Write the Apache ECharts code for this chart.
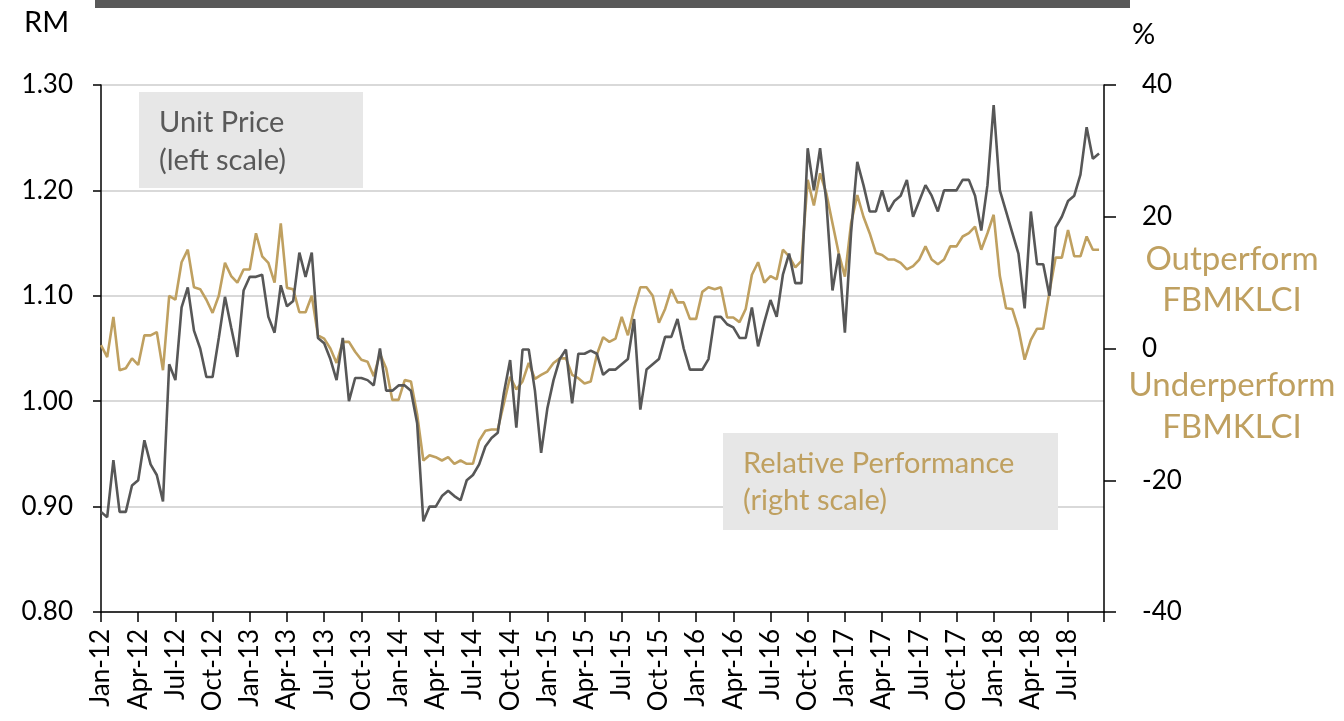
<!DOCTYPE html>
<html>
<head>
<meta charset="utf-8">
<title>Unit Price vs Relative Performance</title>
<script src="https://cdn.jsdelivr.net/npm/echarts@6/dist/echarts.min.js"></script>
<style>
  html, body { margin: 0; padding: 0; background: #fff; }
  #main { width: 1344px; height: 721px; }
</style>
</head>
<body>
<div id="main"></div>
<script>
// x is measured in months from Jan-12, one value every half month
var STEP = 0.5;

var tickLabels = ['Jan-12', 'Apr-12', 'Jul-12', 'Oct-12', 'Jan-13', 'Apr-13', 'Jul-13', 'Oct-13',
  'Jan-14', 'Apr-14', 'Jul-14', 'Oct-14', 'Jan-15', 'Apr-15', 'Jul-15', 'Oct-15',
  'Jan-16', 'Apr-16', 'Jul-16', 'Oct-16', 'Jan-17', 'Apr-17', 'Jul-17', 'Oct-17',
  'Jan-18', 'Apr-18', 'Jul-18'];

// unit price, RM (left scale)
var priceValues = [
  0.895, 0.89, 0.944, 0.895, 0.895, 0.92, 0.925, 0.963, 0.94, 0.93, 0.905, 1.035,
  1.02, 1.089, 1.108, 1.067, 1.05, 1.023, 1.023, 1.06, 1.099, 1.07, 1.042, 1.105,
  1.118, 1.118, 1.12, 1.08, 1.065, 1.11, 1.09, 1.095, 1.141, 1.118, 1.141, 1.06,
  1.055, 1.04, 1.02, 1.06, 1.00, 1.022, 1.022, 1.02, 1.015, 1.05, 1.01, 1.01,
  1.015, 1.015, 1.01, 0.979, 0.886, 0.9, 0.9, 0.91, 0.915, 0.91, 0.906, 0.925,
  0.93, 0.94, 0.957, 0.965, 0.97, 1.008, 1.039, 0.975, 1.049, 1.049, 1.01, 0.951,
  0.993, 1.02, 1.04, 1.049, 0.998, 1.045, 1.045, 1.048, 1.045, 1.025, 1.03, 1.03,
  1.035, 1.04, 1.078, 0.992, 1.03, 1.035, 1.04, 1.061, 1.061, 1.078, 1.05, 1.03,
  1.03, 1.03, 1.04, 1.08, 1.08, 1.073, 1.07, 1.06, 1.06, 1.089, 1.052, 1.075,
  1.096, 1.08, 1.12, 1.14, 1.112, 1.112, 1.24, 1.20, 1.24, 1.19, 1.105, 1.14,
  1.065, 1.16, 1.227, 1.205, 1.18, 1.18, 1.20, 1.18, 1.19, 1.195, 1.21, 1.175,
  1.19, 1.205, 1.195, 1.18, 1.20, 1.20, 1.20, 1.21, 1.21, 1.195, 1.162, 1.205,
  1.281, 1.20, 1.18, 1.16, 1.14, 1.088, 1.18, 1.13, 1.13, 1.10, 1.165, 1.175,
  1.19, 1.195, 1.215, 1.26, 1.23, 1.235
];

// relative performance vs FBMKLCI, % (right scale)
var relativeValues = [
  0.5, -1.3, 4.8, -3.3, -3.0, -1.5, -2.5, 2.0, 2.0, 2.5, -3.3, 8,
  7.4, 13.1, 15, 9.3, 9.0, 7.4, 5.4, 8, 13, 11, 10, 12,
  12, 17.5, 14, 13, 10, 19, 9.2, 9.0, 5.5, 5.5, 8.0, 2,
  1.5, 0, -2.2, 1.0, 1.0, -0.5, -1.7, -2, -4.2, -0.8, -3, -7.8,
  -7.8, -4.8, -5, -10, -17, -16.2, -16.5, -17, -16.5, -17.5, -17, -17.5,
  -17.5, -14, -12.5, -12.3, -12.3, -8.3, -4.3, -6.2, -5.0, -2.2, -4.6, -4,
  -3.5, -2.2, -1.5, -1.5, -4, -4.5, -5.3, -5.0, -0.9, 1.7, 1.0, 1.5,
  4.8, 2, 6, 9.3, 9.3, 8, 3.9, 6, 9, 7, 7, 4.5,
  4.5, 8.6, 9.3, 9.0, 9.3, 4.7, 4.7, 4, 6, 11.2, 13.1, 10,
  11, 10.5, 15, 14, 12.3, 13.3, 25.6, 21.7, 26.6, 23.6, 19, 14.5,
  10.9, 19, 23.3, 20, 17.5, 14.5, 14.2, 13.5, 13.5, 13, 12, 12.5,
  13.5, 15.5, 13.5, 12.8, 13.5, 15.5, 15.5, 17, 17.5, 18.5, 15, 17.5,
  20.3, 11, 6.1, 6, 3, -1.7, 1.3, 3, 3, 8.6, 13.8, 13.8,
  18, 14, 14, 17, 15, 15
];

var DARK = '#575757';
var GOLD = '#BFA060';
var FONT = 'Lato';

function toPoints(values) {
  return values.map(function (v, i) { return [i * STEP, v]; });
}

var myChart = echarts.init(document.getElementById('main'));
myChart.setOption({
  animation: false,
  textStyle: { fontFamily: FONT },
  grid: { left: 101, right: 240, top: 85, bottom: 109 },
  xAxis: {
    type: 'value',
    min: 0,
    max: 80.9,
    interval: 3,
    axisLine: { onZero: false, lineStyle: { color: '#000', width: 1.5 } },
    axisTick: { show: true, length: 10, lineStyle: { color: '#000', width: 1.5 } },
    splitLine: { show: false },
    axisLabel: {
      rotate: 90,
      margin: 17,
      fontSize: 26,
      color: '#000',
      fontFamily: FONT,
      formatter: function (v) {
        var k = Math.round(v / 3);
        return (Math.abs(v - k * 3) < 1e-6 && tickLabels[k]) ? tickLabels[k] : '';
      }
    }
  },
  yAxis: [
    {
      type: 'value',
      min: 0.8,
      max: 1.3,
      interval: 0.1,
      axisLine: { show: true, lineStyle: { color: '#000', width: 1.5 } },
      axisTick: { show: true, length: 8, lineStyle: { color: '#000', width: 1.5 } },
      splitLine: { show: true, lineStyle: { color: '#d9d9d9', width: 2 } },
      axisLabel: {
        margin: 28,
        fontSize: 26,
        color: '#000',
        fontFamily: FONT,
        formatter: function (v) { return v.toFixed(2); }
      }
    },
    {
      type: 'value',
      position: 'right',
      min: -40,
      max: 40,
      interval: 20,
      axisLine: { show: true, lineStyle: { color: '#000', width: 1.5 } },
      axisTick: { show: true, length: 12, lineStyle: { color: '#000', width: 1.5 } },
      splitLine: { show: false },
      axisLabel: {
        margin: 38,
        fontSize: 26,
        color: '#000',
        fontFamily: FONT
      }
    }
  ],
  series: [
    {
      name: 'Relative Performance',
      type: 'line',
      yAxisIndex: 1,
      data: toPoints(relativeValues),
      showSymbol: false,
      lineStyle: { color: GOLD, width: 2.6 },
      z: 2
    },
    {
      name: 'Unit Price',
      type: 'line',
      yAxisIndex: 0,
      data: toPoints(priceValues),
      showSymbol: false,
      lineStyle: { color: DARK, width: 2.6 },
      z: 3
    }
  ],
  graphic: [
    { type: 'rect', left: 95, top: 0, shape: { width: 1035, height: 8 }, style: { fill: '#595959' } },
    { type: 'text', left: 24, top: 8, style: { text: 'RM', fontSize: 29, fontFamily: FONT, fill: '#000' } },
    { type: 'text', left: 1132, top: 20, style: { text: '%', fontSize: 29, fontFamily: FONT, fill: '#000' } },

    { type: 'rect', left: 139, top: 92, shape: { width: 224, height: 96 }, style: { fill: '#e7e7e7' }, z: 10 },
    { type: 'text', left: 159, top: 104, z: 11,
      style: { text: 'Unit Price\n(left scale)', fontSize: 29, lineHeight: 38, fontFamily: FONT, fill: '#595959' } },

    { type: 'rect', left: 723, top: 433, shape: { width: 335, height: 97 }, style: { fill: '#e7e7e7' }, z: 10 },
    { type: 'text', left: 743, top: 445, z: 11,
      style: { text: 'Relative Performance\n(right scale)', fontSize: 29, lineHeight: 37, fontFamily: FONT, fill: GOLD } },

    { type: 'text', x: 1232, y: 280, z: 11,
      style: { text: 'Outperform\nFBMKLCI', align: 'center', verticalAlign: 'middle', fontSize: 33, lineHeight: 41, fontFamily: FONT, fill: GOLD } },
    { type: 'text', x: 1232, y: 406, z: 11,
      style: { text: 'Underperform\nFBMKLCI', align: 'center', verticalAlign: 'middle', fontSize: 33, lineHeight: 42, fontFamily: FONT, fill: GOLD } }
  ]
});
</script>
</body>
</html>
